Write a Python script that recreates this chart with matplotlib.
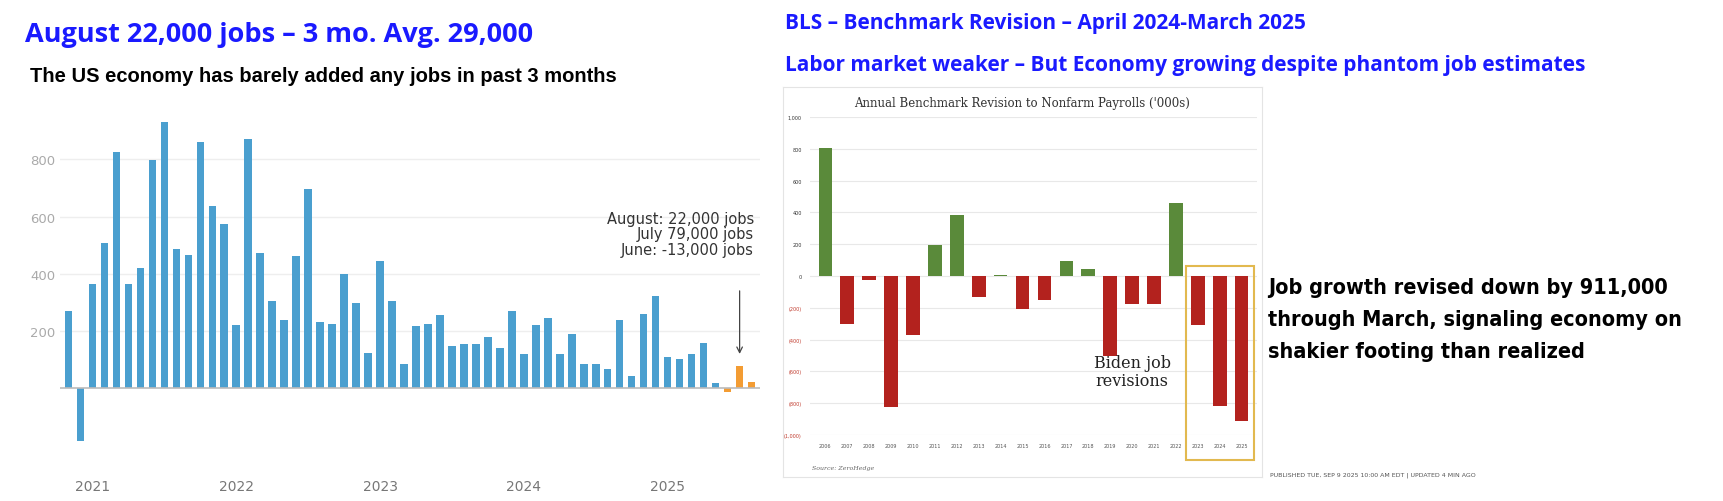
import matplotlib
matplotlib.use("Agg")
import matplotlib.pyplot as plt
from matplotlib.patches import Rectangle

# monthly payroll change, thousands (Nov 2020 - Aug 2025)
jobs = [270, -183, 363, 508, 827, 363, 420, 797, 931, 487, 467, 861, 636, 575,
        222, 870, 472, 305, 240, 461, 696, 232, 224, 398, 297, 122, 444, 305,
        83, 217, 225, 255, 148, 155, 155, 178, 140, 269, 118, 220, 245, 118,
        191, 84, 84, 68, 239, 43, 260, 323, 109, 101, 118, 158, 19, -13, 79, 22]
n_orange = 3
year_labels = ["2021", "2022", "2023", "2024", "2025"]
year_idx = [2, 14, 26, 38, 50]

# annual benchmark revisions, thousands
rev_years = [str(y) for y in range(2006, 2026)]
revisions = [804, -300, -25, -824, -368, 194, 385, -130, 5, -208, -154, 94, 44,
             -500, -177, -173, 462, -306, -818, -911]

W, H = 1724, 502
fig = plt.figure(figsize=(W / 100, H / 100), dpi=100)
fig.patch.set_facecolor("white")


def px(x0, y0, x1, y1):
    return [x0 / W, 1 - y1 / H, (x1 - x0) / W, (y1 - y0) / H]


blue_title = "#1a1aff"
fig.text(25 / W, 1 - 35 / H, "August 22,000 jobs – 3 mo. Avg. 29,000", color=blue_title,
         fontsize=19.5, fontweight="bold", family="Open Sans", va="center")
fig.text(30 / W, 1 - 77 / H, "The US economy has barely added any jobs in past 3 months",
         fontsize=14.5, fontweight="bold", family="Liberation Sans", va="center")

# left chart
ax = fig.add_axes(px(60, 110, 760, 455))
xs = list(range(len(jobs)))
colors = ["#4a9fcf"] * (len(jobs) - n_orange) + ["#f39c33"] * n_orange
ax.bar(xs, jobs, width=0.62, color=colors, zorder=2)
ax.set_xlim(-0.7, len(jobs) - 0.3)
ax.set_ylim(-230, 976)
ax.set_yticks([200, 400, 600, 800])
ax.grid(axis="y", color="#eeeeee", lw=1, zorder=0)
ax.axhline(0, color="#bbbbbb", lw=1.2, zorder=3)
ax.tick_params(axis="y", length=0, labelcolor="#aaaaaa", labelsize=9.5)
ax.set_xticks(year_idx)
ax.set_xticklabels(year_labels)
ax.tick_params(axis="x", length=0, labelcolor="#777777", labelsize=10, pad=18)
for s in ax.spines.values():
    s.set_visible(False)
ax.text(len(jobs) - 0.8, 620, "August: 22,000 jobs\nJuly 79,000 jobs\nJune: -13,000 jobs",
        ha="right", va="top", fontsize=10.5, color="#333333", linespacing=1.05)
ax.annotate("", xy=(len(jobs) - 2, 110), xytext=(len(jobs) - 2, 350),
            arrowprops=dict(arrowstyle="->", color="#444444", lw=0.9))

# right header
fig.text(785 / W, 1 - 24 / H, "BLS – Benchmark Revision – April 2024-March 2025",
         color=blue_title, fontsize=15, fontweight="bold", family="Open Sans", va="center")
fig.text(785 / W, 1 - 66 / H, "Labor market weaker – But Economy growing despite phantom job estimates",
         color=blue_title, fontsize=15, fontweight="bold", family="Open Sans", va="center")

# right chart panel
panel = fig.add_axes(px(783, 88, 1262, 478))
panel.set_xticks([]); panel.set_yticks([])
for s in panel.spines.values():
    s.set_color("#e4e4e4")
panel.text(0.5, 0.96, "Annual Benchmark Revision to Nonfarm Payrolls ('000s)",
           ha="center", va="center", fontsize=8.5, family="DejaVu Serif", color="#333333")
panel.text(0.06, 0.02, "Source: ZeroHedge", fontsize=4.5, style="italic",
           family="DejaVu Serif", color="#666666")

ax2 = fig.add_axes(px(810, 118, 1257, 436))
ax2.patch.set_alpha(0)
rx = list(range(len(revisions)))
rcol = ["#5a8a3a" if v > 0 else "#b3221e" for v in revisions]
ax2.bar(rx, revisions, width=0.62, color=rcol, zorder=2)
ax2.set_xlim(-0.7, len(revisions) - 0.3)
ax2.set_ylim(-1000, 1000)
yt = list(range(-1000, 1001, 200))
ax2.set_yticks(yt)
ax2.set_yticklabels([f"({-v:,})" if v < 0 else f"{v:,}" for v in yt], fontsize=3.5)
for lab, v in zip(ax2.get_yticklabels(), yt):
    lab.set_color("#c0392b" if v < 0 else "#333333")
ax2.grid(axis="y", color="#e8e8e8", lw=0.8, zorder=0)
ax2.set_xticks(rx)
ax2.set_xticklabels(rev_years, fontsize=3.5, color="#555555")
ax2.tick_params(length=0, pad=6)
for s in ax2.spines.values():
    s.set_visible(False)
ax2.add_patch(Rectangle((16.45, -1160), 3.1, 1220, fill=False, ec="#e2b94f",
                        lw=1.5, clip_on=False, zorder=4))
ax2.text(14.0, -600, "Biden job\nrevisions", ha="center", va="center", fontsize=11.5,
         family="DejaVu Serif", color="#222222", linespacing=1.1)

# big callout
fig.text(1268 / W, 1 - 320 / H,
         "Job growth revised down by 911,000\nthrough March, signaling economy on\nshakier footing than realized",
         fontsize=15.5, fontweight="bold", family=["Liberation Sans Narrow", "DejaVu Sans"],
         va="center", ha="left", linespacing=1.75, fontstretch="condensed")
fig.text(1270 / W, 1 - 475 / H, "PUBLISHED TUE, SEP 9 2025 10:00 AM EDT | UPDATED 4 MIN AGO",
         fontsize=4.5, color="#555555", va="center")

fig.savefig("out.png", dpi=100)
